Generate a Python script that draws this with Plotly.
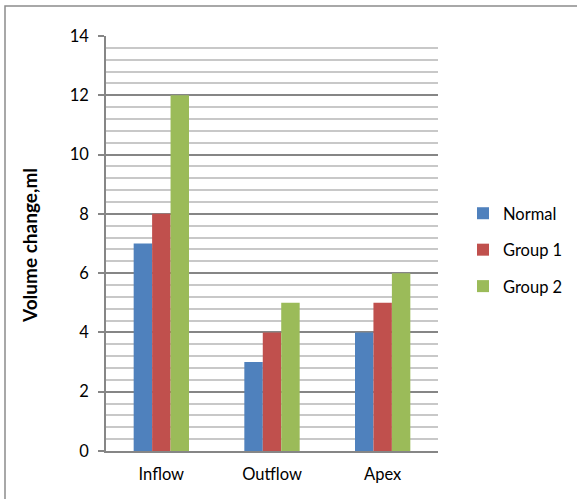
import plotly.graph_objects as go

categories = ["Inflow", "Outflow", "Apex"]
normal = [7, 3, 4]
group1 = [8, 4, 5]
group2 = [12, 5, 6]
series_names = ["Normal", "Group 1", "Group 2"]
series_colors = ["#4F81BD", "#C0504D", "#9BBB59"]
y_ticks = [0, 2, 4, 6, 8, 10, 12, 14]

FONT = "Lato, Carlito, Calibri, sans-serif"
FS = 16.5

fig = go.Figure()
for name, vals, col in zip(series_names, [normal, group1, group2], series_colors):
    fig.add_trace(go.Bar(
        x=categories, y=vals, name=name, legendgroup=name,
        marker=dict(color=col, line=dict(width=0)),
    ))

W, H = 577, 499
L, R, T, B = 106, 139, 36, 48
pw, ph = W - L - R, H - T - B

fig.update_layout(
    width=W, height=H,
    margin=dict(l=L, r=R, t=T, b=B, autoexpand=False),
    paper_bgcolor="white", plot_bgcolor="white",
    barmode="group", bargap=0.5, bargroupgap=0,
    font=dict(family=FONT, size=FS, color="#000000"),
    showlegend=True,
    legend=dict(
        x=(463 - L) / pw, y=(H - B - 250) / ph, xanchor="left", yanchor="middle",
        font=dict(family=FONT, size=FS, color="#000000"),
        traceorder="grouped", tracegroupgap=12,
        bgcolor="rgba(0,0,0,0)", itemwidth=30,
    ),
    xaxis=dict(
        showline=True, linecolor="#868686", linewidth=1.5,
        ticks="", showgrid=False,
        tickfont=dict(family=FONT, size=FS),
        ticklabelstandoff=7,
    ),
    yaxis=dict(
        range=[0, 14], tickvals=y_ticks,
        showline=True, linecolor="#868686", linewidth=1.5,
        ticks="outside", ticklen=6, tickcolor="#868686", tickwidth=1.5,
        showgrid=True, gridcolor="#868686", gridwidth=1.5,
        zeroline=False,
        minor=dict(dtick=0.4, showgrid=True, gridcolor="#C8C8C8", gridwidth=1.5, ticks=""),
        tickfont=dict(family=FONT, size=FS),
        ticklabelstandoff=6,
    ),
    shapes=[dict(
        type="rect", xref="paper", yref="paper",
        x0=(5 - L) / pw, x1=2, y0=-1, y1=1 + (T - 6) / ph,
        line=dict(color="#8C8C8C", width=1.5), fillcolor="rgba(0,0,0,0)", layer="below",
    )],
    annotations=[dict(
        text="<b>Volume change,ml</b>", textangle=-90,
        xref="paper", yref="paper", x=(29 - L) / pw, y=(H - B - 246) / ph,
        xanchor="center", yanchor="middle", showarrow=False,
        font=dict(family=FONT, size=19, color="#000000"),
    )],
)

fig.write_html("out.html")
